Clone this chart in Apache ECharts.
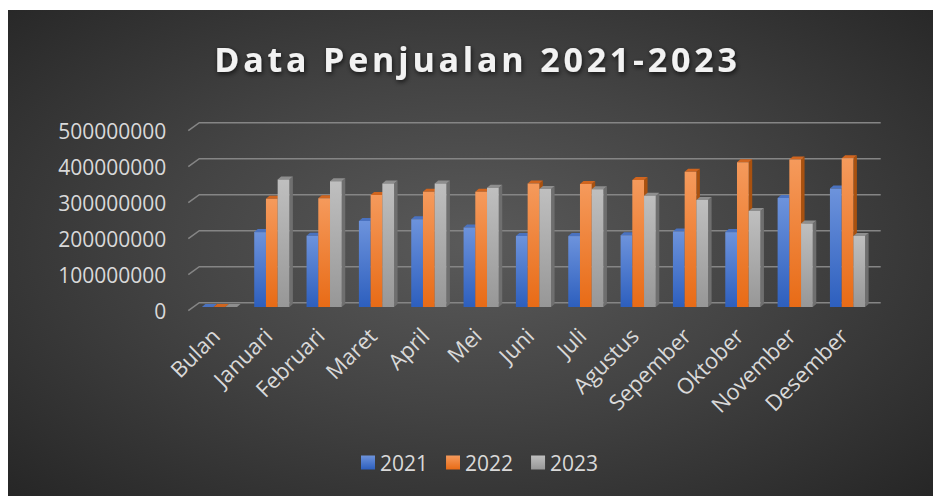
<!DOCTYPE html>
<html><head><meta charset="utf-8">
<script src="https://cdn.jsdelivr.net/npm/echarts@6/dist/echarts.min.js"></script>
<style>
html,body{margin:0;padding:0;background:#fff;}
#bg{position:absolute;left:8px;top:10px;width:925px;height:486px;
background:radial-gradient(ellipse farthest-corner at 50% 48%, #5a5a5a 0%, #444444 45%, #262626 100%);}
#chart{position:absolute;left:0;top:0;width:933px;height:496px;}
</style></head>
<body><div id="bg"></div><div id="chart"></div>
<script>
const titleText = 'Data Penjualan 2021-2023';
const categories = ['Bulan','Januari','Februari','Maret','April','Mei','Juni','Juli','Agustus','Sepember','Oktober','November','Desember'];
const seriesNames = ['2021','2022','2023'];
const sales2021 = [2021,208000000,198000000,239000000,244000000,221000000,197000000,197000000,199000000,210000000,208000000,303000000,329000000];
const sales2022 = [2022,301000000,302000000,311000000,320000000,320000000,343000000,342000000,353000000,376000000,402000000,410000000,413000000];
const sales2023 = [2023,354000000,349000000,343000000,343000000,331000000,328000000,327000000,309000000,297000000,267000000,232000000,197000000];
const yTicks = [0,100000000,200000000,300000000,400000000,500000000];

const FONT = 'Open Sans';
const palette = [
  {top:'#6d93dc', bottom:'#2d5fbe', side:'#24488e', cap:'#4a72c0'},
  {top:'#f59a5c', bottom:'#e86b16', side:'#a9510f', cap:'#d0651f'},
  {top:'#bfbfbf', bottom:'#979797', side:'#6f6f6f', cap:'#8e8e8e'}
];
const allData = [sales2021, sales2022, sales2023];

function grad(p){
  return {type:'linear',x:0,y:0,x2:0,y2:1,colorStops:[{offset:0,color:p.top},{offset:1,color:p.bottom}]};
}

function barRender(k){
  return function(params, api){
    const i = api.value(0), v = api.value(1);
    const band = api.size([1,0])[0];
    const w = band*0.224;
    const c = api.coord([i, v]);
    const b = api.coord([i, 0]);
    const l = c[0] - 1.5*w + k*w;
    const top = c[1], base = b[1];
    const dx = 3.5, dy = 3;
    const p = palette[k];
    return {type:'group', children:[
      {type:'polygon', shape:{points:[[l+w,top],[l+w+dx,top-dy],[l+w+dx,base-dy],[l+w,base]]}, style:{fill:p.side}},
      {type:'polygon', shape:{points:[[l,top],[l+dx,top-dy],[l+w+dx,top-dy],[l+w,top]]}, style:{fill:p.cap}},
      {type:'rect', shape:{x:l,y:top,width:w,height:Math.max(base-top,0)}, style:{fill:grad(p)}}
    ]};
  };
}

const series = [{
  type:'custom', name:'grid', silent:true, z:1,
  data: yTicks.map(t=>[0,t]),
  renderItem:function(params, api){
    const cs = params.coordSys;
    const y = api.coord([0, api.value(1)])[1];
    return {type:'polyline', shape:{points:[[cs.x-5,y+3.7],[cs.x+6,y-4.3],[cs.x+cs.width+7,y-4.3]]},
      style:{stroke:'#858585', lineWidth:1.6, fill:null}};
  }
}];
seriesNames.forEach((n,k)=>{
  series.push({
    type:'custom', name:n, z:2+k,
    itemStyle:{color:grad(palette[k])},
    data: allData[k].map((v,i)=>[i,v]),
    renderItem: barRender(k)
  });
});

const chart = echarts.init(document.getElementById('chart'), null, {renderer:'svg'});
chart.setOption({
  backgroundColor:'transparent',
  animation:false,
  title:{text:titleText, left:'center', top:37,
    textStyle:{fontFamily:FONT, fontSize:34, fontWeight:'bold', color:'#f2f2f2',
      textShadowColor:'rgba(0,0,0,0.7)', textShadowBlur:5, textShadowOffsetX:1, textShadowOffsetY:2}},
  legend:{data:seriesNames, left:356, top:447, icon:'rect', itemWidth:14, itemHeight:14, itemGap:18,
    textStyle:{fontFamily:FONT, fontSize:21, color:'#d9d9d9'}},
  grid:{left:193.3, right:59.3, top:127, bottom:189, containLabel:false},
  xAxis:{type:'category', data:categories,
    axisLine:{show:false}, axisTick:{show:false}, splitLine:{show:false},
    axisLabel:{rotate:45, interval:0, margin:20, padding:[0,6,0,0], fontFamily:FONT, fontSize:22, color:'#d9d9d9'}},
  yAxis:{type:'value', min:0, max:500000000, interval:100000000,
    axisLine:{show:false}, axisTick:{show:false}, splitLine:{show:false},
    axisLabel:{margin:27, fontFamily:FONT, fontSize:21, color:'#d9d9d9',
      verticalAlign:'top', lineHeight:8, formatter:function(v){return String(v);}}},
  series: series
});

// widen the title's letter spacing like the original
const SPACING = 3.8;
document.querySelectorAll('#chart text').forEach(function(t){
  if (t.textContent === titleText) {
    t.setAttribute('letter-spacing', SPACING + 'px');
    const x = parseFloat(t.getAttribute('x') || '0');
    const anchor = t.getAttribute('text-anchor');
    const extra = SPACING * (titleText.length - 1);
    if (anchor === 'middle') t.setAttribute('x', x + 11);
    else t.setAttribute('x', x - extra/2 + 11);
  }
});
</script></body></html>
